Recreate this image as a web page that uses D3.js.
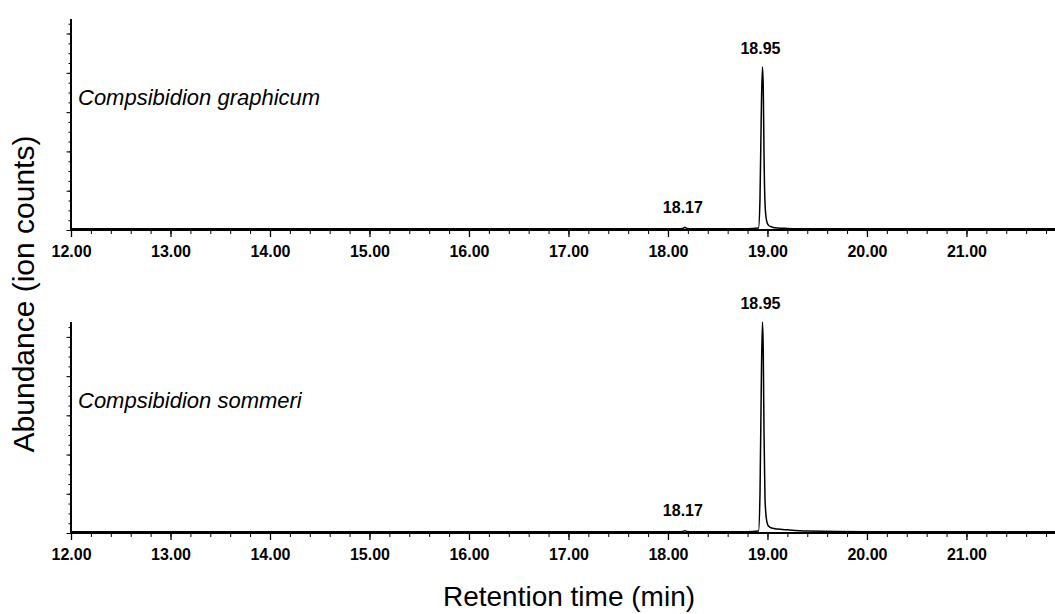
<!DOCTYPE html>
<html>
<head>
<meta charset="utf-8">
<script src="https://cdn.jsdelivr.net/npm/d3@7"></script>
<style>
  body { margin: 0; background: #fff; }
  svg { font-family: "Liberation Sans", Arial, sans-serif; }
</style>
</head>
<body>
<div id="chart"></div>
<script>
// retention times (min) shared by both traces
const times = [12.00, 13.50, 15.00, 16.10, 17.50, 18.10, 18.15, 18.17, 18.19, 18.25, 18.80, 18.91, 18.925, 18.94, 18.95, 18.958, 18.965, 18.975, 18.99, 19.01, 19.05, 19.10, 19.20, 19.40, 20.00, 21.90];
// abundance, arbitrary units (one major y tick = 1)
const graphicum = [0.03, 0.03, 0.03, 0.03, 0.03, 0.03, 0.04, 0.07, 0.04, 0.03, 0.03, 0.05, 0.8, 3.3, 4.15, 3.6, 2.0, 0.7, 0.25, 0.12, 0.07, 0.05, 0.04, 0.03, 0.03, 0.03];
const sommeri   = [0.03, 0.03, 0.03, 0.03, 0.03, 0.03, 0.04, 0.06, 0.04, 0.03, 0.03, 0.05, 1.0, 4.2, 5.38, 4.6, 2.6, 0.9, 0.35, 0.18, 0.12, 0.10, 0.08, 0.05, 0.03, 0.03];
const species = ["Compsibidion graphicum", "Compsibidion sommeri"];
const peakTimes = [18.17, 18.95];
const xTicks = [12, 13, 14, 15, 16, 17, 18, 19, 20, 21];

const width = 1055, height = 614;
const svg = d3.select("#chart").append("svg")
  .attr("width", width).attr("height", height);

const x = d3.scaleLinear().domain([12, 21.9]).range([71, 1056]);

const panels = [
  { name: species[0], values: graphicum, top: 19, bottom: 230, ymax: 5.37 },
  { name: species[1], values: sommeri, top: 322, bottom: 533, ymax: 5.38 }
];

panels.forEach(p => {
  const y = d3.scaleLinear().domain([0, p.ymax]).range([p.bottom, p.top]);
  const g = svg.append("g");

  // y axis: minor + major ticks, no labels
  g.append("g").attr("transform", "translate(71,0)")
    .call(d3.axisLeft(y).tickValues(d3.range(0, p.ymax, 0.25)).tickSize(2.5).tickFormat(""))
    .call(a => a.select(".domain").remove());
  g.append("g").attr("transform", "translate(71,0)")
    .call(d3.axisLeft(y).tickValues(d3.range(0, p.ymax, 1)).tickSize(4.5).tickFormat(""))
    .call(a => a.select(".domain").remove());
  g.append("line")
    .attr("x1", 71).attr("x2", 71).attr("y1", p.top).attr("y2", p.bottom)
    .attr("stroke", "#000").attr("stroke-width", 2);

  // x axis
  g.append("g").attr("transform", `translate(0,${p.bottom})`)
    .call(d3.axisBottom(x).tickValues(d3.range(12, 21.85, 0.2)).tickSize(4).tickFormat(""))
    .call(a => a.select(".domain").remove());
  const xa = g.append("g").attr("transform", `translate(0,${p.bottom})`)
    .call(d3.axisBottom(x).tickValues(xTicks).tickSize(7).tickPadding(9).tickFormat(d3.format(".2f")));
  xa.select(".domain").remove();
  xa.selectAll("line").attr("stroke-width", 1.3);
  xa.selectAll("text").attr("font-size", 16).attr("font-weight", "bold")
    .attr("font-family", "Liberation Sans, Arial, sans-serif");
  g.selectAll(".tick line").attr("stroke", "#000");
  g.append("line")
    .attr("x1", 71).attr("x2", width).attr("y1", p.bottom).attr("y2", p.bottom)
    .attr("stroke", "#000").attr("stroke-width", 2);

  // trace
  const line = d3.line()
    .x((d, i) => x(times[i]))
    .y(d => y(d))
    .curve(d3.curveMonotoneX);
  g.append("path").datum(p.values)
    .attr("d", line)
    .attr("fill", "none").attr("stroke", "#000").attr("stroke-width", 1.5);

  // peak labels
  peakTimes.forEach(t => {
    const i = times.indexOf(t);
    const big = p.values[i] > 1;
    g.append("text")
      .attr("x", x(t) - 2)
      .attr("y", big ? y(p.values[i]) - 13 : p.bottom - 17)
      .attr("text-anchor", "middle")
      .attr("font-size", 16).attr("font-weight", "bold")
      .text(t.toFixed(2));
  });

  // species name
  g.append("text")
    .attr("x", 78).attr("y", p.top + 86)
    .attr("font-size", 22).attr("font-style", "italic")
    .text(p.name);
});

// axis titles
svg.append("text")
  .attr("transform", "translate(34,294) rotate(-90)")
  .attr("text-anchor", "middle")
  .attr("font-size", 30)
  .text("Abundance (ion counts)");

svg.append("text")
  .attr("x", 569).attr("y", 606)
  .attr("text-anchor", "middle")
  .attr("font-size", 28)
  .text("Retention time (min)");
</script>
</body>
</html>
